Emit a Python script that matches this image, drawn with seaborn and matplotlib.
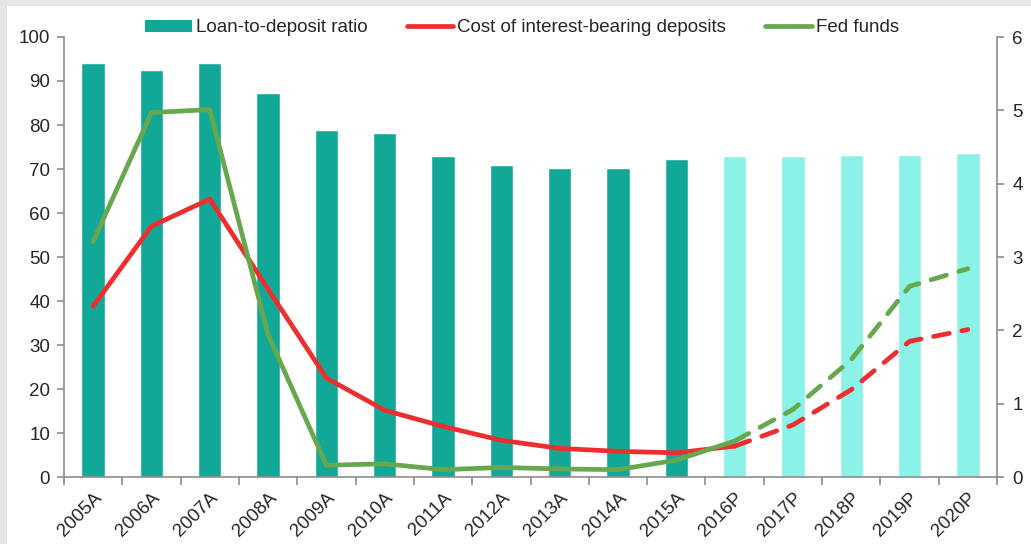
import matplotlib
matplotlib.use("Agg")
import matplotlib.pyplot as plt
from matplotlib.patches import Rectangle, Patch
from matplotlib.lines import Line2D
import seaborn as sns
import numpy as np
import pandas as pd

# data
years = ["2005A", "2006A", "2007A", "2008A", "2009A", "2010A", "2011A", "2012A",
         "2013A", "2014A", "2015A", "2016P", "2017P", "2018P", "2019P", "2020P"]
loan_to_deposit = [94.1, 92.5, 94.2, 87.3, 78.9, 78.2, 73.0, 70.9,
                   70.2, 70.3, 72.3, 73.0, 73.0, 73.2, 73.2, 73.6]
cost_deposits = [2.33, 3.42, 3.79, 2.56, 1.35, 0.91, 0.69, 0.50,
                 0.39, 0.35, 0.33, 0.42, 0.71, 1.19, 1.85, 2.01]
fed_funds = [3.21, 4.97, 5.01, 1.94, 0.16, 0.18, 0.10, 0.13,
             0.11, 0.10, 0.23, 0.49, 0.92, 1.60, 2.60, 2.84]
first_projection = "2016P"

teal = "#12a898"
teal_light = "#8af2e6"
red = "#ee2e2e"
green = "#67a84f"
spine_gray = "#8c8c8c"
fs = 13.5

sns.set_style("white")
plt.rcParams["font.family"] = ["Liberation Sans", "DejaVu Sans"]

df = pd.DataFrame({"year": years, "ltd": loan_to_deposit,
                   "cost": cost_deposits, "fed": fed_funds})
df["pos"] = np.arange(len(df))
split = years.index(first_projection)
bar_colors = {y: (teal if i < split else teal_light) for i, y in enumerate(years)}

fig = plt.figure(figsize=(10.31, 5.44), dpi=100)
fig.patch.set_facecolor("#e4e5e4")
fig.add_artist(Rectangle((7 / 1031, 0), 1, 1 - 6 / 544, transform=fig.transFigure,
                         facecolor="white", edgecolor="none", zorder=0))

ax = fig.add_axes([64 / 1031, 1 - 477 / 544, (997 - 64) / 1031, (477 - 37) / 544])
ax.set_facecolor("none")
sns.barplot(data=df, x="year", y="ltd", hue="year", palette=bar_colors,
            legend=False, width=0.4, saturation=1, ax=ax, zorder=2)
ax.set_ylim(0, 100)
ax.set_xlim(-0.5, len(years) - 0.5)
ax.set_yticks(np.arange(0, 101, 10))
ax.set_xlabel("")
ax.set_ylabel("")

ax2 = ax.twinx()
actual = df[df["pos"] <= split]
proj = df[df["pos"] >= split]
for col, color in (("cost", red), ("fed", green)):
    sns.lineplot(data=actual, x="pos", y=col, color=color, lw=3.4, ax=ax2,
                 solid_capstyle="round", solid_joinstyle="round")
    sns.lineplot(data=proj, x="pos", y=col, color=color, lw=3.4, ax=ax2,
                 linestyle=(0, (3.4, 2.7)), dash_capstyle="round")
ax2.set_ylim(0, 6)
ax2.set_yticks(range(0, 7))
ax2.set_xlim(-0.5, len(years) - 0.5)
ax2.set_xlabel("")
ax2.set_ylabel("")

for a in (ax, ax2):
    a.spines["top"].set_visible(False)
    for s in ("left", "right", "bottom"):
        a.spines[s].set_color(spine_gray)
        a.spines[s].set_linewidth(1.2)
ax.spines["right"].set_visible(False)
ax2.spines["left"].set_visible(False)
ax2.spines["bottom"].set_visible(False)

ax.tick_params(axis="y", direction="out", length=5, width=1.2, color=spine_gray,
               labelsize=fs, left=True, pad=5)
ax2.tick_params(axis="y", direction="out", length=5, width=1.2, color=spine_gray,
                labelsize=fs, right=True, pad=6)
ax.set_xticks(np.arange(len(years)))
ax.set_xticklabels(years, rotation=45, ha="right", rotation_mode="anchor", fontsize=fs)
ax.tick_params(axis="x", length=0, pad=9)
ax.set_xticks(np.arange(len(years) + 1) - 0.5, minor=True)
ax.tick_params(axis="x", which="minor", direction="out", length=6, width=1.2,
               color=spine_gray, bottom=True)

handles = [Patch(facecolor=teal, edgecolor="none"),
           Line2D([], [], color=red, lw=3.4),
           Line2D([], [], color=green, lw=3.4)]
labels = ["Loan-to-deposit ratio", "Cost of interest-bearing deposits", "Fed funds"]
fig.legend(handles, labels, loc="center", bbox_to_anchor=(522 / 1031, 1 - 28 / 544),
           ncol=3, frameon=False, fontsize=fs, handlelength=2.5, handleheight=0.55,
           handletextpad=0.2, columnspacing=2.1, borderpad=0)

fig.savefig("out.png", dpi=100, facecolor=fig.get_facecolor())
